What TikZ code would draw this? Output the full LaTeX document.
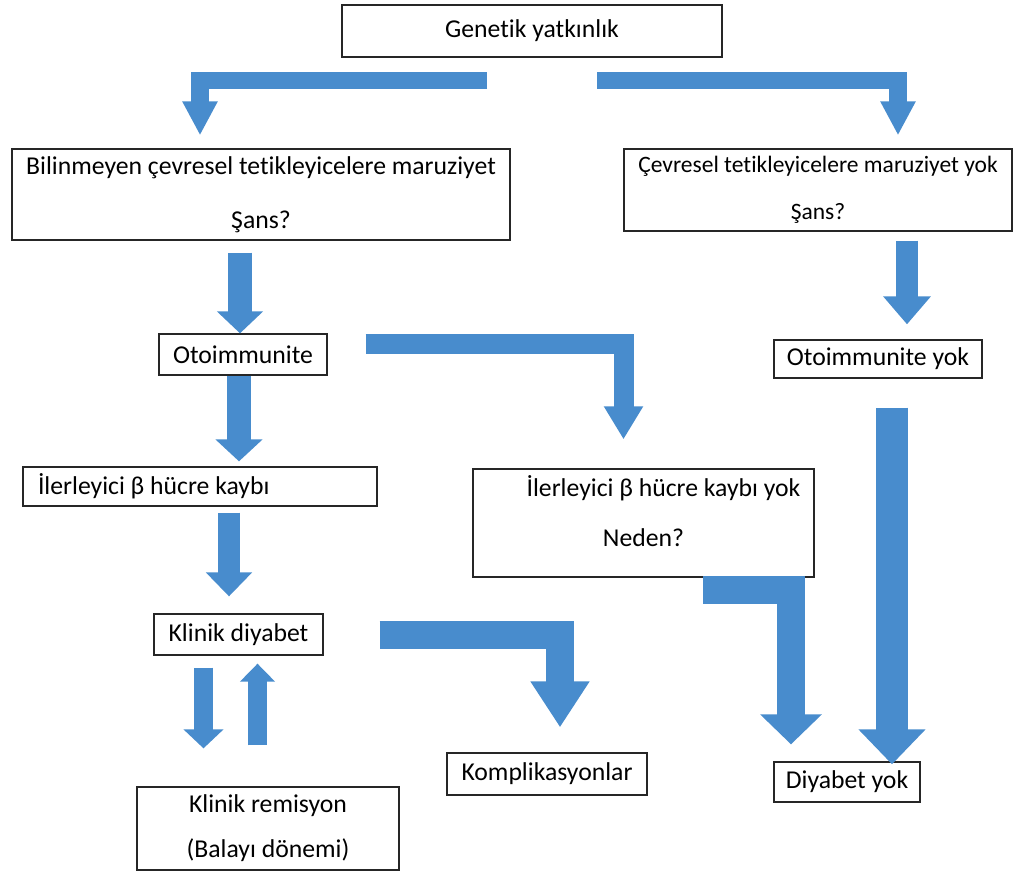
\documentclass[tikz,border=0pt]{standalone}
\usepackage{fontspec}
\setmainfont{Carlito}[Ligatures=NoCommon]
\usetikzlibrary{positioning}
\usetikzlibrary{calc}
\usetikzlibrary{arrows.meta}
\definecolor{arrowblue}{RGB}{72,140,205}

\begin{document}
\begin{tikzpicture}[x=1pt,y=-1pt,align=center,
	bnode/.style={rectangle,draw=black!85,line width=1.3pt,inner sep=0pt,font=\fontsize{25.7}{30}\selectfont},
	barrow/.style={draw=arrowblue,line join=miter}]
		\path[fill=white] (0,0) rectangle (1017,877);
		% boxes
		\node[bnode,minimum width=380pt,minimum height=52pt] (gen) at (532,31) {Genetik yatkınlık};
		\node[bnode,minimum width=498pt,minimum height=91pt,font=\fontsize{25.7}{54}\selectfont] (bilin) at (261,194.5) {Bilinmeyen çevresel tetikleyicelere maruziyet\\Şans?};
		\node[bnode,minimum width=388pt,minimum height=82pt,font=\fontsize{23.5}{47}\selectfont] (cevre) at (818,190) {Çevresel tetikleyicelere maruziyet yok\\Şans?};
		\node[bnode,minimum width=168pt,minimum height=41pt] (oto) at (243,354.5) {Otoimmunite};
		\node[bnode,minimum width=208pt,minimum height=38pt] (otoyok) at (878,359) {Otoimmunite yok};
		\node[bnode,minimum width=354pt,minimum height=39pt,inner xsep=15pt,text width=324pt,align=flush left] (ilerle) at (200,486.5) {İlerleyici β hücre kaybı};
		\node[bnode,minimum width=341pt,minimum height=108pt,font=\fontsize{25.7}{50}\selectfont] (ilerleyok) at (643.5,523) {\hspace*{40pt}İlerleyici β hücre kaybı yok\\Neden?\\[-26pt]\mbox{}};
		\node[bnode,minimum width=169pt,minimum height=41pt] (klinik) at (238.5,634.5) {Klinik diyabet};
		\node[bnode,minimum width=200pt,minimum height=42pt] (kompl) at (547,774) {Komplikasyonlar};
		\node[bnode,minimum width=146pt,minimum height=40pt] (diyyok) at (847,782) {Diyabet yok};
		\node[bnode,minimum width=262pt,minimum height=83pt,font=\fontsize{25.7}{45}\selectfont] (remis) at (268,828.5) {Klinik remisyon\\(Balayı dönemi)};
		% block arrows
		\draw[barrow,line width=17.5pt,-{Triangle[width=33pt,length=34pt]}] ($(gen.south)+(-45,23)$) -| ($(bilin.north)+(-61,-13)$);
		\draw[barrow,line width=17.5pt,-{Triangle[width=33pt,length=34pt]}] ($(gen.south)+(65,23)$) -| ($(cevre.north)+(80,-13)$);
		\draw[barrow,line width=24pt,-{Triangle[width=45pt,length=22pt]}] ($(bilin.south)+(-21,12)$) -- ($(oto.north)+(-3,0)$);
		\draw[barrow,line width=24pt,-{Triangle[width=46pt,length=22pt]}] ($(oto.south)+(-4,0)$) -- ($(ilerle.north)+(39,-5)$);
		\draw[barrow,line width=20pt,-{Triangle[width=37pt,length=33pt]}] ($(oto.east)+(38,-11)$) -| ($(ilerleyok.north)+(-20,-29)$);
		\draw[barrow,line width=22pt,-{Triangle[width=46pt,length=28pt]}] ($(cevre.south)+(89,9)$) -- ($(otoyok.north)+(29,-15)$);
		\draw[barrow,line width=22pt,-{Triangle[width=45pt,length=24pt]}] ($(ilerle.south)+(29,6)$) -- ($(klinik.north)+(-9.5,-17)$);
		\draw[barrow,line width=28pt,-{Triangle[width=56pt,length=46pt]}] ($(klinik.east)+(56,0)$) -| ($(kompl.north)+(13,-25)$);
		\draw[barrow,line width=28.5pt,-{Triangle[width=60pt,length=30pt]}] ($(ilerleyok.south)+(59.5,12.5)$) -| ($(diyyok.north)+(-56,-17)$);
		\draw[barrow,line width=32pt,-{Triangle[width=65pt,length=35pt]}] ($(otoyok.south)+(14,29)$) -- ($(diyyok.north)+(45,3)$);
		\draw[barrow,line width=19pt,-{Triangle[width=39pt,length=19pt]}] ($(klinik.south)+(-35,12)$) -- ($(remis.north)+(-64.5,-38)$);
		\draw[barrow,line width=19pt,-{Triangle[width=34pt,length=18pt]}] ($(remis.north)+(-10.5,-41)$) -- ($(klinik.south)+(19,8)$);
	\end{tikzpicture}
\end{document}
